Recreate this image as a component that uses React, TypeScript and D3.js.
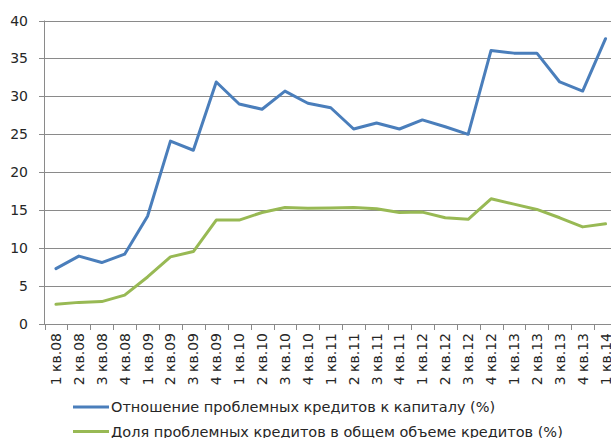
import React from "react";
import * as d3 from "d3";

const quarters = [
   "1 кв.08", "2 кв.08", "3 кв.08", "4 кв.08",
   "1 кв.09", "2 кв.09", "3 кв.09", "4 кв.09",
   "1 кв.10", "2 кв.10", "3 кв.10", "4 кв.10",
   "1 кв.11", "2 кв.11", "3 кв.11", "4 кв.11",
   "1 кв.12", "2 кв.12", "3 кв.12", "4 кв.12",
   "1 кв.13", "2 кв.13", "3 кв.13", "4 кв.13",
   "1 кв.14",
];

// Отношение проблемных кредитов к капиталу (%)
const toCapital = [
   7.3, 8.95, 8.1, 9.2, 14.2, 24.1, 22.9, 31.9, 29.0, 28.3, 30.7, 29.1, 28.5,
   25.7, 26.5, 25.7, 26.9, 26.0, 25.0, 36.05, 35.7, 35.7, 31.9, 30.7, 37.6,
];

// Доля проблемных кредитов в общем объеме кредитов (%)
const shareOfLoans = [
   2.6, 2.85, 2.95, 3.8, 6.2, 8.85, 9.55, 13.7, 13.7, 14.7, 15.35, 15.25, 15.3,
   15.35, 15.2, 14.7, 14.75, 14.0, 13.8, 16.5, 15.8, 15.1, 14.0, 12.8, 13.2,
];

const yTicks = [0, 5, 10, 15, 20, 25, 30, 35, 40];

const seriesNames = [
   "Отношение проблемных кредитов к капиталу (%)",
   "Доля проблемных кредитов в общем объеме кредитов (%)",
];
const colors = ["#4A7EBB", "#98B954"];

const width = 611;
const height = 438;
const left = 44.5;
const font = "'DejaVu Sans', sans-serif";
const axisColor = "#8a8a8a";

const App = () => {
   // band scale: x axis runs past the right edge of the picture
   const x = d3
      .scaleBand()
      .domain(quarters)
      .range([left, left + 25 * 22.9]);
   const y = d3.scaleLinear().domain([0, 40]).range([324, 20.5]);

   const line = d3
      .line<number>()
      .x((d, i) => x(quarters[i])! + x.bandwidth() / 2)
      .y((d) => y(d));

   const series = [toCapital, shareOfLoans];

   return (
      <svg
         width={width}
         height={height}
         style={{ position: "absolute", left: 0, top: 0, background: "#fff" }}
         fontFamily={font}
      >
         {/* gridlines + y labels */}
         {yTicks.map((t) => (
            <g key={t}>
               <line
                  x1={39}
                  x2={width}
                  y1={Math.round(y(t)) + 0.5}
                  y2={Math.round(y(t)) + 0.5}
                  stroke={axisColor}
                  strokeWidth={1}
               />
               <text
                  x={28}
                  y={y(t)}
                  dy="0.36em"
                  textAnchor="end"
                  fontSize={14}
                  fill="#262626"
               >
                  {t}
               </text>
            </g>
         ))}
         {/* y axis */}
         <line x1={left} x2={left} y1={y(40)} y2={y(0)} stroke={axisColor} />
         {/* x ticks */}
         {quarters.map((q, i) => (
            <line
               key={"t" + i}
               x1={Math.round(x(q)!) + 0.5}
               x2={Math.round(x(q)!) + 0.5}
               y1={y(0)}
               y2={y(0) + 6}
               stroke={axisColor}
            />
         ))}
         {/* x labels */}
         {quarters.map((q) => {
            const cx = x(q)! + x.bandwidth() / 2;
            return (
               <text
                  key={q}
                  transform={`translate(${cx},333) rotate(-90)`}
                  dy="0.36em"
                  textAnchor="end"
                  fontSize={14}
                  fill="#262626"
               >
                  {q}
               </text>
            );
         })}
         {/* lines */}
         {series.map((s, i) => (
            <path
               key={i}
               d={line(s)!}
               fill="none"
               stroke={colors[i]}
               strokeWidth={3}
               strokeLinejoin="round"
               strokeLinecap="round"
            />
         ))}
         {/* legend */}
         {seriesNames.map((n, i) => {
            const ly = 407 + i * 24.5;
            return (
               <g key={n}>
                  <line
                     x1={73}
                     x2={109}
                     y1={ly}
                     y2={ly}
                     stroke={colors[i]}
                     strokeWidth={3}
                  />
                  <text x={111} y={ly} dy="0.36em" fontSize={14.5} fill="#262626">
                     {n}
                  </text>
               </g>
            );
         })}
      </svg>
   );
};

export default App;
